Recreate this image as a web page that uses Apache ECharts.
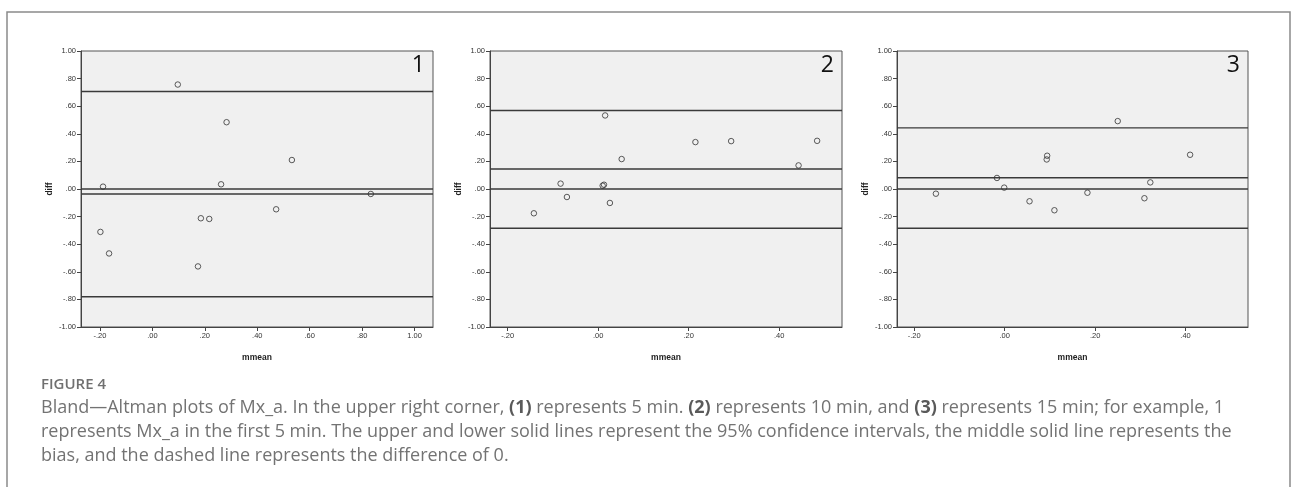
<!DOCTYPE html>
<html>
<head>
<meta charset="utf-8">
<script src="https://cdn.jsdelivr.net/npm/echarts@6/dist/echarts.min.js"></script>
<style>
html,body{margin:0;padding:0;background:#fff;}
#c{width:1292px;height:487px;}
</style>
</head>
<body>
<div id="c"></div>
<script>
// ---- data ----
var panelLabels = ['1', '2', '3'];
var xTicks1 = [-0.2, 0, 0.2, 0.4, 0.6, 0.8, 1.0];
var xTicks2 = [-0.2, 0, 0.2, 0.4];
var xTicks3 = [-0.2, 0, 0.2, 0.4];
var xRange1 = [-0.272, 1.070];
var xRange2 = [-0.239, 0.539];
var xRange3 = [-0.238, 0.538];

var points1 = [
  [0.097, 0.757], [-0.188, 0.017], [0.262, 0.034], [0.283, 0.484],
  [0.532, 0.210], [0.833, -0.036], [0.472, -0.147], [0.185, -0.212],
  [0.217, -0.217], [-0.198, -0.311], [-0.165, -0.467], [0.174, -0.561]
];
var points2 = [
  [0.0155, 0.533], [0.052, 0.217], [0.215, 0.340], [0.294, 0.347],
  [0.443, 0.171], [0.484, 0.349], [-0.083, 0.039], [-0.069, -0.058],
  [0.010, 0.024], [0.013, 0.031], [0.026, -0.101], [-0.142, -0.176]
];
var points3 = [
  [-0.152, -0.034], [-0.017, 0.080], [-0.001, 0.010], [0.055, -0.089],
  [0.093, 0.214], [0.094, 0.241], [0.110, -0.154], [0.183, -0.027],
  [0.250, 0.492], [0.309, -0.067], [0.322, 0.048], [0.410, 0.248]
];
// [upper limit, bias, zero, lower limit]
var hLines1 = [0.706, -0.036, 0, -0.781];
var hLines2 = [0.569, 0.145, 0, -0.284];
var hLines3 = [0.443, 0.082, 0, -0.284];

// ---- build ----
function fmt(v) {
  var s = Math.abs(v).toFixed(2);
  if (s.charAt(0) === '0') s = s.substring(1);
  return (v < -1e-9 ? '-' : '') + s;
}
var panels = [
  {pts: points1, lines: hLines1, xr: xRange1, xt: xTicks1, left: 81, width: 352},
  {pts: points2, lines: hLines2, xr: xRange2, xt: xTicks2, left: 490, width: 352},
  {pts: points3, lines: hLines3, xr: xRange3, xt: xTicks3, left: 897, width: 351}
];
var grids = [], xAxes = [], yAxes = [], series = [], graphics = [];
var axisColor = '#444';
var tickFont = {fontSize: 7.5, color: '#333', fontFamily: 'Liberation Sans'};
panels.forEach(function (p, i) {
  grids.push({left: p.left, top: 51, width: p.width, height: 276, show: true,
    backgroundColor: '#f0f0f0', borderColor: '#555', borderWidth: 1});
  xAxes.push({type: 'value', gridIndex: i, min: p.xr[0], max: p.xr[1],
    name: 'mmean', nameLocation: 'middle', nameGap: 26,
    nameTextStyle: {fontSize: 8.5, fontWeight: 'bold', color: '#222', fontFamily: 'Liberation Sans'},
    axisLine: {show: true, onZero: false, lineStyle: {color: axisColor, width: 1}},
    axisTick: {show: true, length: 4, customValues: p.xt, lineStyle: {color: axisColor}},
    axisLabel: Object.assign({customValues: p.xt, formatter: fmt, margin: 5}, tickFont),
    splitLine: {show: false}});
  yAxes.push({type: 'value', gridIndex: i, min: -1, max: 1, interval: 0.2,
    name: 'diff', nameLocation: 'middle', nameGap: 27, nameRotate: 90,
    nameTextStyle: {fontSize: 8.5, fontWeight: 'bold', color: '#222', fontFamily: 'Liberation Sans'},
    axisLine: {show: true, onZero: false, lineStyle: {color: axisColor, width: 1}},
    axisTick: {show: true, length: 4, lineStyle: {color: axisColor}},
    axisLabel: Object.assign({formatter: fmt, margin: 5}, tickFont),
    splitLine: {show: false}});
  p.lines.forEach(function (yv) {
    series.push({type: 'line', xAxisIndex: i, yAxisIndex: i, silent: true,
      data: [[p.xr[0], yv], [p.xr[1], yv]], symbol: 'none',
      lineStyle: {color: '#3a3a3a', width: 1.4}, z: 2});
  });
  series.push({type: 'scatter', xAxisIndex: i, yAxisIndex: i, data: p.pts,
    symbol: 'circle', symbolSize: 5.5,
    itemStyle: {color: 'rgba(0,0,0,0)', borderColor: '#333', borderWidth: 1}, z: 3});
  graphics.push({type: 'text', right: 1292 - (p.left + p.width) + 8, top: 54,
    style: {text: panelLabels[i], fontSize: 23, fill: '#111', fontFamily: 'Open Sans'}});
});

// frame
graphics.push({type: 'rect', shape: {x: 7, y: 12, width: 1283, height: 500},
  style: {fill: 'none', stroke: '#8a8a8a', lineWidth: 1.5}, silent: true});

var capFont = 'Open Sans';
var capColor = '#737373';
graphics.push({type: 'text', left: 41, top: 377,
  style: {text: 'FIGURE 4', fontSize: 15, fontWeight: 600, fill: '#707070', fontFamily: capFont}});
var rich = {
  n: {fontSize: 18, fill: capColor, fontFamily: capFont, lineHeight: 24},
  b: {fontSize: 18, fill: '#5a5a5a', fontWeight: 'bold', fontFamily: capFont, lineHeight: 24}
};
var capLines = [
  '{n|Bland\u2014Altman plots of Mx_a. In the upper right corner, }{b|(1)}{n| represents 5 min. }{b|(2)}{n| represents 10 min, and }{b|(3)}{n| represents 15 min; for example, 1}',
  '{n|represents Mx_a in the first 5 min. The upper and lower solid lines represent the 95% confidence intervals, the middle solid line represents the}',
  '{n|bias, and the dashed line represents the difference of 0.}'
];
capLines.forEach(function (t, k) {
  graphics.push({type: 'text', left: 41, top: 399 + k * 24,
    style: {text: t, rich: rich, fontSize: 18, fontFamily: capFont}});
});

var chart = echarts.init(document.getElementById('c'), null, {renderer: 'canvas'});
chart.setOption({
  animation: false,
  backgroundColor: '#fff',
  grid: grids, xAxis: xAxes, yAxis: yAxes, series: series, graphic: graphics
});
</script>
</body>
</html>
